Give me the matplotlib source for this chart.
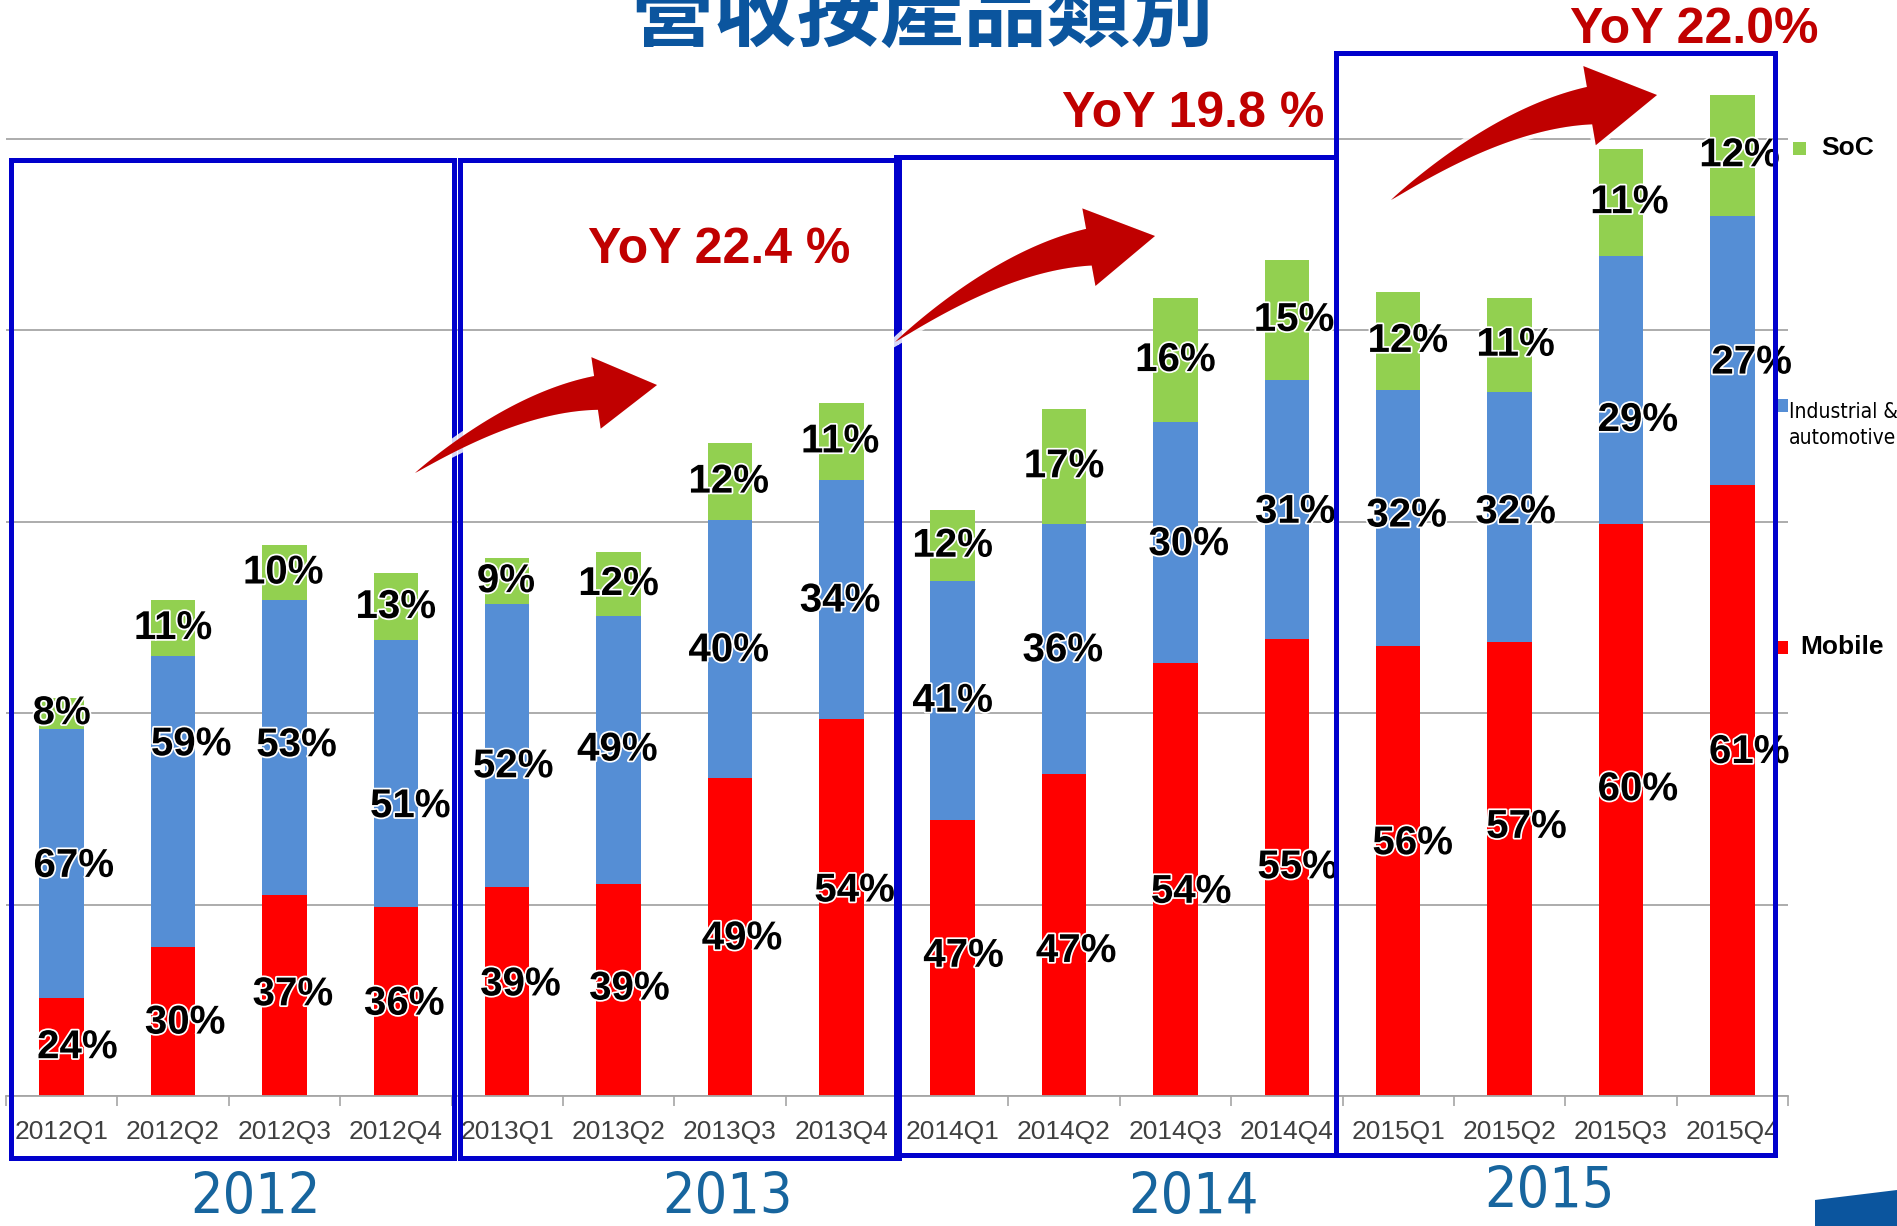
import numpy as np
import matplotlib
matplotlib.use("Agg")
import matplotlib.pyplot as plt
import matplotlib.patheffects as pe
import matplotlib.font_manager as fm
from matplotlib.patches import Rectangle, Polygon

# ---------------- data ----------------
quarters = ["2012Q1", "2012Q2", "2012Q3", "2012Q4",
            "2013Q1", "2013Q2", "2013Q3", "2013Q4",
            "2014Q1", "2014Q2", "2014Q3", "2014Q4",
            "2015Q1", "2015Q2", "2015Q3", "2015Q4"]
years = ["2012", "2013", "2014", "2015"]

mobile = [5.1, 7.8, 10.5, 9.9, 10.9, 11.1, 16.6, 19.7,
          14.4, 16.8, 22.6, 23.9, 23.5, 23.7, 29.9, 31.9]
industrial = [14.1, 15.2, 15.4, 13.9, 14.8, 14.0, 13.5, 12.5,
              12.5, 13.1, 12.6, 13.5, 13.4, 13.1, 14.0, 14.1]
soc = [1.6, 2.9, 2.9, 3.5, 2.4, 3.3, 4.0, 4.0,
       3.7, 6.0, 6.5, 6.3, 5.1, 4.9, 5.6, 6.3]

mobile_pct = [24, 30, 37, 36, 39, 39, 49, 54, 47, 47, 54, 55, 56, 57, 60, 61]
industrial_pct = [67, 59, 53, 51, 52, 49, 40, 34, 41, 36, 30, 31, 32, 32, 29, 27]
soc_pct = [8, 11, 10, 13, 9, 12, 12, 11, 12, 17, 16, 15, 12, 11, 11, 12]

yoy_labels = ["YoY 22.4 %", "YoY 19.8 %", "YoY 22.0%"]
title = "營收按產品類別"
series_names = ["SoC", "Industrial &\nautomotive", "Mobile"]

# ---------------- layout / style ----------------
W, H = 1897, 1226
RED, BLUE, GREEN = "#FF0000", "#558ED5", "#92D050"
BOXBLUE = "#0000CC"
DARKRED = "#C00000"
YEARBLUE = "#17659E"

# label nudges (pixels, x right / y down) to follow the original placement
lab_dx_g = [0, 0, -1, 0, -1, 0, -1, -1, 0, 0, 0, 6, 8, 5, 7, 6]
lab_dx_b = [10, 15, 10, 12, 5, -1, -1, -1, 0, -1, 11, 7, 7, 5, 14, 16]
lab_dx_r = [13, 10, 7, 7, 11, 9, 10, 11, 9, 10, 13, 9, 12, 14, 14, 14]
lab_dy_b = [2, -47, -2, 27, 17, 0, 1, 1, 0, 1, 1, 2, -2, -4, 25, 10]
lab_dy_r = [0, 1, -1, 2, -6, -1, 1, -14, -2, 13, 10, 0, -23, -35, -17, -32]
S = 1897 / 1568  # reference scale

names = {f.name for f in fm.fontManager.ttflist}
narrow = {"family": "Liberation Sans"}
narrow_size = 15
if "Liberation Sans Narrow" in names:
    narrow = {"family": "Liberation Sans Narrow"}
    narrow_size = 18
else:
    for f in fm.fontManager.ttflist:
        if f.name == "DejaVu Sans" and f.stretch == "condensed":
            narrow = {"family": "DejaVu Sans", "stretch": "condensed"}
            narrow_size = 15
            break

plt.rcParams["font.family"] = ["Liberation Sans", "DejaVu Sans"]

fig = plt.figure(figsize=(W / 100, H / 100), dpi=100)
fig.patch.set_facecolor("white")


def fx(x):
    return x / W


def fy(y):
    return 1 - y / H


base_px = 1096
unit_px = 19.14
ytop = 57
ax = fig.add_axes([fx(6), fy(base_px), (1788 - 6) / W, ytop * unit_px / H])
ax.set_xlim(-0.5, 15.5)
ax.set_ylim(0, ytop)

x = np.arange(len(quarters))
bw = 0.40
mob = np.array(mobile)
ind = np.array(industrial)
so = np.array(soc)
ax.bar(x, mob, bw, color=RED, zorder=2)
ax.bar(x, ind, bw, bottom=mob, color=BLUE, zorder=2)
ax.bar(x, so, bw, bottom=mob + ind, color=GREEN, zorder=2)

ax.set_yticks(np.arange(0, 51, 10))
ax.yaxis.grid(True, color="#A6A6A6", lw=1.3, zorder=0)
ax.tick_params(axis="y", length=0, labelleft=False)
ax.set_xticks(x)
ax.set_xticklabels(quarters, fontsize=19, color="#404040")
ax.set_xticks(np.arange(-0.5, 15.6, 1), minor=True)
ax.tick_params(axis="x", which="major", length=0, pad=17)
ax.tick_params(axis="x", which="minor", length=7, width=1.2, color="#A6A6A6")
for sp in ["top", "left", "right"]:
    ax.spines[sp].set_visible(False)
ax.spines["bottom"].set_color("#A6A6A6")
ax.spines["bottom"].set_linewidth(1.3)

glow = [pe.withStroke(linewidth=2.5, foreground="white")]
lab_kw = dict(fontsize=29, fontweight="bold", color="black", ha="center",
              va="center", textcoords="offset pixels", zorder=6,
              path_effects=glow)
for i in range(len(quarters)):
    ax.annotate(f"{mobile_pct[i]}%", (x[i], mob[i] / 2),
                xytext=(lab_dx_r[i] * S, -lab_dy_r[i] * S), **lab_kw)
    ax.annotate(f"{industrial_pct[i]}%", (x[i], mob[i] + ind[i] / 2),
                xytext=(lab_dx_b[i] * S, -lab_dy_b[i] * S), **lab_kw)
    ax.annotate(f"{soc_pct[i]}%", (x[i], mob[i] + ind[i] + so[i] / 2),
                xytext=(lab_dx_g[i] * S, 0), **lab_kw)

# ---------------- year boxes ----------------
boxes = [(11, 160, 454, 1158), (460, 160, 899, 1158),
         (896, 157, 1336, 1155), (1336, 53, 1775, 1155)]
for (x0, y0, x1, y1) in boxes:
    fig.patches.append(Rectangle((fx(x0), fy(y1)), fx(x1) - fx(x0), fy(y0) - fy(y1),
                                 transform=fig.transFigure, fill=False,
                                 edgecolor=BOXBLUE, lw=3.6, zorder=5))

year_pos = [(256, 1214), (727, 1214), (1194, 1214), (1550, 1208)]
for yr, (px, py) in zip(years, year_pos):
    fig.text(fx(px), fy(py), yr, fontsize=41, color=YEARBLUE, ha="center",
             va="baseline", **narrow)


# ---------------- swoosh arrows ----------------
def swoosh(T, Hd):
    T = np.array(T, float)
    Hd = np.array(Hd, float)
    d = Hd - T
    L = np.hypot(*d)
    u = d / L
    v = np.array([u[1], -u[0]])
    N = T + 0.767 * L * u + 0.052 * L * v
    C = T + 0.463 * L * u + 0.125 * L * v
    t = np.linspace(0, 1, 50)[:, None]
    P = (1 - t) ** 2 * T + 2 * t * (1 - t) * C + t ** 2 * N
    D = 2 * (1 - t) * (C - T) + 2 * t * (N - C)
    D = D / np.hypot(D[:, 0], D[:, 1])[:, None]
    n = np.column_stack([D[:, 1], -D[:, 0]])
    w = 0.066 * L * (t[:, 0] ** 0.85)
    up = P + w[:, None] * n
    lo = P - w[:, None] * n
    dh = (Hd - N) / np.hypot(*(Hd - N))
    nh = np.array([dh[1], -dh[0]])
    hw = 0.14 * L
    pts = np.vstack([up, [N + hw * nh], [Hd], [N - hw * nh], lo[::-1]])
    pts_fig = np.column_stack([pts[:, 0] / W, 1 - pts[:, 1] / H])
    poly = Polygon(pts_fig, closed=True, transform=fig.transFigure,
                   facecolor=DARKRED, edgecolor="none", zorder=7,
                   path_effects=[pe.Stroke(linewidth=6, foreground="white", alpha=0.85),
                                 pe.Normal()])
    fig.patches.append(poly)


swoosh((415, 473), (657, 385))
swoosh((895, 342), (1155, 236))
swoosh((1391, 200), (1657, 95))

yoy_pos = [(719, 250), (1193, 114), (1694, 30)]
for lab, (px, py) in zip(yoy_labels, yoy_pos):
    fig.text(fx(px), fy(py), lab, fontsize=36, fontweight="bold",
             color=DARKRED, ha="center", va="center", zorder=8)

# ---------------- title ----------------
fig.text(fx(923), fy(40), title, fontsize=60, fontweight="bold",
         color="#0B559E", ha="center", va="baseline",
         family=["Noto Sans CJK TC", "DejaVu Sans"])

# ---------------- legend ----------------
leg_items = [
    (GREEN, (1799, 148), (1821, 148), "bold", 19, {"family": "Liberation Sans"}),
    (BLUE, (1781, 405), (1789, 425), "normal", narrow_size, narrow),
    (RED, (1781, 647), (1800, 647), "bold", 19, {"family": "Liberation Sans"}),
]
for (col, (sx, sy), (tx, ty), wt, fsz, fam), name in zip(leg_items, series_names):
    sz = 13
    fig.patches.append(Rectangle((fx(sx - sz / 2), fy(sy + sz / 2)), sz / W, sz / H,
                                 transform=fig.transFigure, facecolor=col,
                                 edgecolor="none", zorder=4))
    fig.text(fx(tx), fy(ty), name, fontsize=fsz, fontweight=wt, color="black",
             ha="left", va="center", linespacing=1.35, **fam)

# ---------------- page tab ----------------
tab = Polygon([(fx(1815), fy(1200)), (fx(1897), fy(1190)), (fx(1897), fy(1226)),
               (fx(1815), fy(1226))], closed=True, transform=fig.transFigure,
              facecolor="#0B559E", edgecolor="none", zorder=4)
fig.patches.append(tab)
fig.text(fx(1860), fy(1240), "15", fontsize=22, fontweight="bold", color="white",
         ha="center", va="center")

fig.savefig("out.png", dpi=100, facecolor="white")
